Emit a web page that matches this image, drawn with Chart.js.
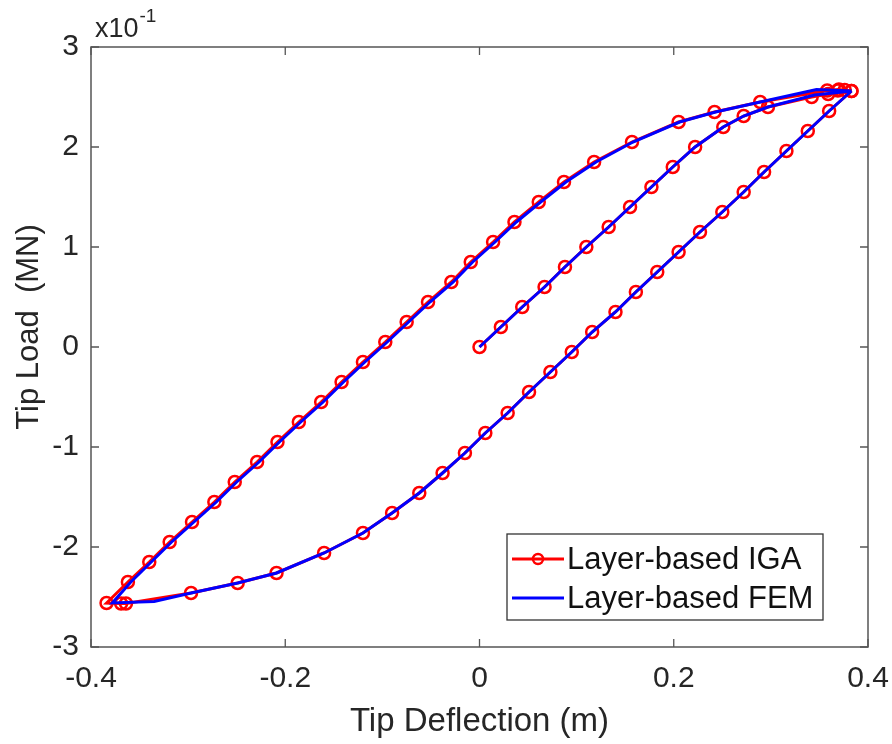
<!DOCTYPE html>
<html>
<head>
<meta charset="utf-8">
<script src="https://cdn.jsdelivr.net/npm/chart.js@4.4.1/dist/chart.umd.min.js"></script>
<style>
  html, body { margin: 0; padding: 0; background: #ffffff; }
  #wrap { width: 892px; height: 744px; }
</style>
</head>
<body>
<div id="wrap"><canvas id="c" width="892" height="744"></canvas></div>
<script>
// Tip deflection (m) and tip load (MN)
const igaDeflection = [
  0, 0.022, 0.044, 0.067, 0.088, 0.110, 0.133, 0.155, 0.177, 0.199, 0.222, 0.251, 0.272, 0.297, 0.342, 0.359, 0.369, 0.376, 0.383,
  0.370, 0.358, 0.289, 0.242, 0.205, 0.157, 0.118, 0.087, 0.061, 0.036, 0.014, -0.009, -0.029, -0.053, -0.075, -0.097, -0.120, -0.142, -0.163, -0.186, -0.208, -0.229, -0.252, -0.273, -0.296, -0.319, -0.340, -0.362, -0.384,
  -0.369, -0.364, -0.297, -0.249, -0.209, -0.160, -0.120, -0.090, -0.062, -0.038, -0.015, 0.006, 0.029, 0.051, 0.073, 0.095, 0.116, 0.140, 0.161, 0.183, 0.205, 0.227, 0.250, 0.272, 0.293, 0.316, 0.338, 0.360, 0.383
];
const igaLoad = [
  0, 0.02, 0.04, 0.06, 0.08, 0.10, 0.12, 0.14, 0.16, 0.18, 0.20, 0.22, 0.231, 0.240, 0.250, 0.253, 0.2565, 0.257, 0.256,
  0.2575, 0.2565, 0.245, 0.235, 0.225, 0.205, 0.185, 0.165, 0.145, 0.125, 0.105, 0.085, 0.065, 0.045, 0.025, 0.005, -0.015, -0.035, -0.055, -0.075, -0.095, -0.115, -0.135, -0.155, -0.175, -0.195, -0.215, -0.235, -0.256,
  -0.2565, -0.2565, -0.246, -0.236, -0.226, -0.206, -0.186, -0.166, -0.146, -0.126, -0.106, -0.086, -0.066, -0.045, -0.025, -0.005, 0.015, 0.035, 0.055, 0.075, 0.095, 0.115, 0.135, 0.155, 0.175, 0.196, 0.216, 0.236, 0.256
];
const femDeflection = [
  0, 0.022, 0.044, 0.067, 0.088, 0.110, 0.133, 0.155, 0.177, 0.199, 0.222, 0.251, 0.272, 0.297, 0.345, 0.383,
  0.347, 0.289, 0.243, 0.206, 0.158, 0.120, 0.089, 0.063, 0.038, 0.016, -0.007, -0.027, -0.051, -0.073, -0.095, -0.118, -0.140, -0.161, -0.184, -0.206, -0.227, -0.250, -0.271, -0.294, -0.317, -0.338, -0.359, -0.378,
  -0.335, -0.297, -0.249, -0.209, -0.160, -0.120, -0.090, -0.062, -0.038, -0.015, 0.006, 0.029, 0.051, 0.073, 0.095, 0.116, 0.140, 0.161, 0.183, 0.205, 0.227, 0.250, 0.272, 0.293, 0.316, 0.338, 0.360, 0.383
];
const femLoad = [
  0, 0.02, 0.04, 0.06, 0.08, 0.10, 0.12, 0.14, 0.16, 0.18, 0.20, 0.22, 0.231, 0.240, 0.252, 0.256,
  0.2575, 0.245, 0.235, 0.225, 0.205, 0.185, 0.165, 0.145, 0.125, 0.105, 0.085, 0.065, 0.045, 0.025, 0.005, -0.015, -0.035, -0.055, -0.075, -0.095, -0.115, -0.135, -0.155, -0.175, -0.195, -0.215, -0.235, -0.256,
  -0.2545, -0.246, -0.236, -0.226, -0.206, -0.186, -0.166, -0.146, -0.126, -0.106, -0.086, -0.066, -0.045, -0.025, -0.005, 0.015, 0.035, 0.055, 0.075, 0.095, 0.115, 0.135, 0.155, 0.175, 0.196, 0.216, 0.236, 0.256
];
const seriesNames = ['Layer-based IGA', 'Layer-based FEM'];
const xTicks = [-0.4, -0.2, 0, 0.2, 0.4];
const yTicks = [-0.3, -0.2, -0.1, 0, 0.1, 0.2, 0.3];
const xTitle = 'Tip Deflection (m)';
const yTitle = 'Tip Load  (MN)';

const FONT = '"Liberation Sans", Arial, sans-serif';
const TXT = '#262626';
const AX = '#555555';

function pts(xs, ys) { return xs.map((v, i) => ({ x: v, y: ys[i] })); }

const framePlugin = {
  id: 'frame',
  beforeDatasetsDraw(chart) {
    const { ctx, chartArea: a, scales } = chart;
    ctx.save();
    ctx.strokeStyle = AX;
    ctx.lineWidth = 1.5;
    ctx.strokeRect(a.left, a.top, a.right - a.left, a.bottom - a.top);
    ctx.lineWidth = 1.3;
    const L = 8;
    xTicks.forEach(v => {
      const px = scales.x.getPixelForValue(v);
      ctx.beginPath();
      ctx.moveTo(px, a.bottom); ctx.lineTo(px, a.bottom - L);
      ctx.moveTo(px, a.top); ctx.lineTo(px, a.top + L);
      ctx.stroke();
    });
    yTicks.forEach(v => {
      const py = scales.y.getPixelForValue(v);
      ctx.beginPath();
      ctx.moveTo(a.left, py); ctx.lineTo(a.left + L, py);
      ctx.moveTo(a.right, py); ctx.lineTo(a.right - L, py);
      ctx.stroke();
    });
    ctx.restore();
  },
  afterDraw(chart) {
    const { ctx, scales } = chart;
    ctx.save();
    ctx.fillStyle = TXT;
    // y-axis title (rotated)
    ctx.save();
    ctx.translate(29, 327);
    ctx.rotate(-Math.PI / 2);
    ctx.font = '31px ' + FONT;
    ctx.textAlign = 'center';
    ctx.textBaseline = 'middle';
    ctx.fillText(yTitle, 0, 0);
    ctx.restore();

    // exponent label
    ctx.textBaseline = 'alphabetic';
    ctx.textAlign = 'left';
    ctx.font = '27px ' + FONT;
    ctx.fillText('x10', 95, 37);
    const w = ctx.measureText('x10').width;
    ctx.font = '19px ' + FONT;
    ctx.fillText('-1', 95 + w + 1, 22);

    // legend
    const bx = 507, by = 534, bw = 316, bh = 86;
    ctx.fillStyle = '#ffffff';
    ctx.fillRect(bx, by, bw, bh);
    ctx.strokeStyle = '#333333';
    ctx.lineWidth = 1.3;
    ctx.strokeRect(bx, by, bw, bh);
    const rows = [
      { y: 559, color: '#ff0000', marker: true },
      { y: 598, color: '#0000ff', marker: false }
    ];
    rows.forEach((r, i) => {
      ctx.strokeStyle = r.color;
      ctx.lineWidth = 3;
      ctx.beginPath();
      ctx.moveTo(512, r.y); ctx.lineTo(564, r.y);
      ctx.stroke();
      if (r.marker) {
        ctx.lineWidth = 2.5;
        ctx.beginPath();
        ctx.arc(538, r.y, 5, 0, Math.PI * 2);
        ctx.stroke();
      }
      ctx.fillStyle = '#111111';
      ctx.font = '31px ' + FONT;
      ctx.textBaseline = 'middle';
      ctx.fillText(seriesNames[i], 567, r.y + 1);
    });
    ctx.restore();
  }
};

new Chart(document.getElementById('c'), {
  type: 'line',
  data: {
    datasets: [
      {
        label: seriesNames[0],
        data: pts(igaDeflection, igaLoad),
        borderColor: '#ff0000',
        borderWidth: 3,
        pointStyle: 'circle',
        pointRadius: 6,
        pointBorderWidth: 2.5,
        pointBorderColor: '#ff0000',
        pointBackgroundColor: 'rgba(0,0,0,0)',
        tension: 0,
        order: 2
      },
      {
        label: seriesNames[1],
        data: pts(femDeflection, femLoad),
        borderColor: '#0000ff',
        borderWidth: 3,
        pointRadius: 0,
        tension: 0,
        order: 1
      }
    ]
  },
  options: {
    responsive: false,
    animation: false,
    events: [],
    layout: { padding: { left: 0, right: 24, top: 47, bottom: 0 } },
    plugins: { legend: { display: false }, tooltip: { enabled: false } },
    scales: {
      x: {
        type: 'linear',
        min: -0.4, max: 0.4,
        afterBuildTicks(s) { s.ticks = xTicks.map(v => ({ value: v })); },
        afterFit(s) { s.height = 97; s.paddingLeft = 0; s.paddingRight = 0; },
        grid: { display: false, drawTicks: false },
        border: { display: false },
        ticks: {
          color: TXT, font: { family: FONT, size: 30 }, padding: 14, maxRotation: 0,
          callback: v => String(Number(v.toFixed(1)))
        },
        title: { display: true, text: xTitle, color: TXT, font: { family: FONT, size: 33 }, padding: { top: 0, bottom: 2 } }
      },
      y: {
        type: 'linear',
        min: -0.3, max: 0.3,
        afterBuildTicks(s) { s.ticks = yTicks.map(v => ({ value: v })); },
        afterFit(s) { s.width = 91; s.paddingTop = 0; s.paddingBottom = 0; },
        grid: { display: false, drawTicks: false },
        border: { display: false },
        ticks: {
          color: TXT, font: { family: FONT, size: 30 }, padding: 12,
          callback: v => String(Math.round(v * 10))
        },
        title: { display: false, text: yTitle }
      }
    }
  },
  plugins: [framePlugin]
});
</script>
</body>
</html>
